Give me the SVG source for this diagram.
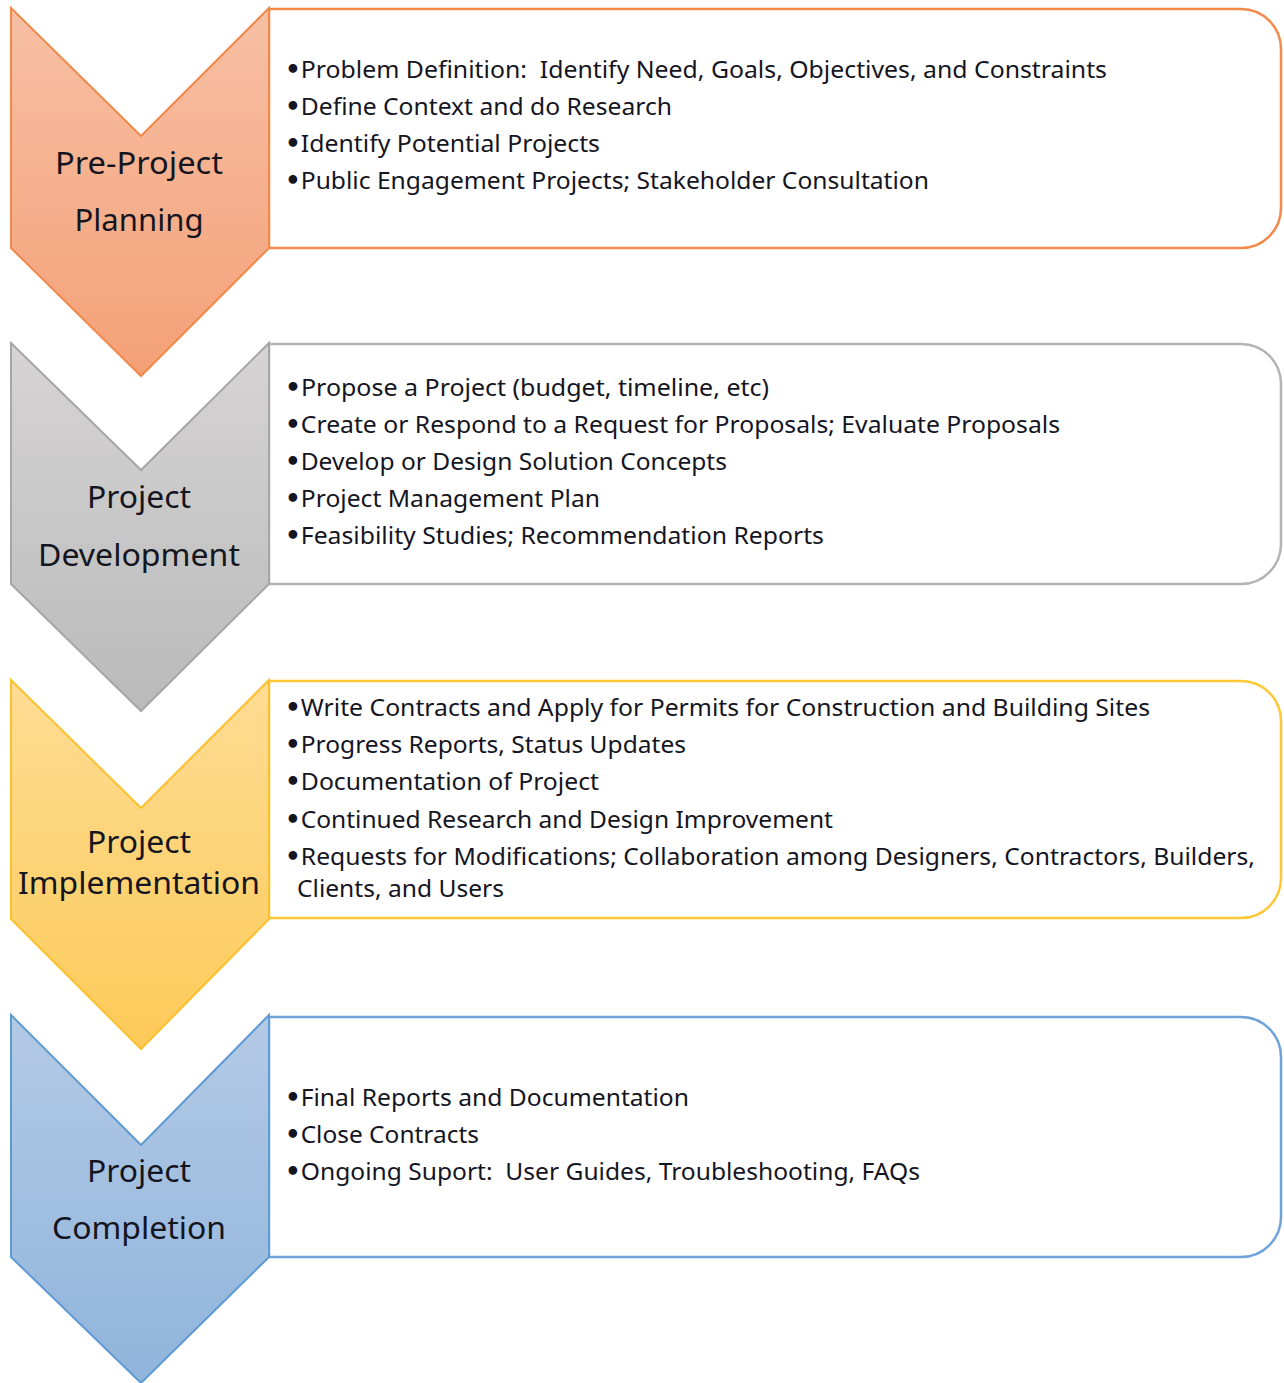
<svg xmlns="http://www.w3.org/2000/svg" width="1284" height="1383" viewBox="0 0 1284 1383">
<style>
.t{font-family:"Noto Sans","Open Sans","Liberation Sans",sans-serif;font-size:24px;fill:#15151f;white-space:pre;}
.b{font-weight:bold;font-family:"DejaVu Sans",sans-serif;}
.h{font-family:"Noto Sans","Open Sans","Liberation Sans",sans-serif;font-size:31px;fill:#15151f;text-anchor:middle;}
.box{fill:#fff;stroke-width:2.5;}
.chev{stroke-width:2;}
</style>
<defs>
<linearGradient id="gO" x1="0" y1="0" x2="0" y2="1"><stop offset="0" stop-color="#f7c0a4"/><stop offset="1" stop-color="#f4a077"/></linearGradient>
<linearGradient id="gG" x1="0" y1="0" x2="0" y2="1"><stop offset="0" stop-color="#d6d4d4"/><stop offset="1" stop-color="#bababa"/></linearGradient>
<linearGradient id="gY" x1="0" y1="0" x2="0" y2="1"><stop offset="0" stop-color="#fedc94"/><stop offset="1" stop-color="#fcca58"/></linearGradient>
<linearGradient id="gB" x1="0" y1="0" x2="0" y2="1"><stop offset="0" stop-color="#b3cae5"/><stop offset="1" stop-color="#90b4dc"/></linearGradient>
</defs>
<g id="connectors"></g>

<g id="stage1">
<path class="box" stroke="#f4894a" d="M269,9 H1241 A40,40 0 0 1 1281,49 V208 A40,40 0 0 1 1241,248 H269 Z"/>
<path class="chev" fill="url(#gO)" stroke="#f08a4b" d="M11,8 L141,136 L269,8 L269,248 L141,376 L11,248 Z"/>
<text class="h" x="139" y="174" textLength="168" lengthAdjust="spacingAndGlyphs">Pre-Project</text>
<text class="h" x="139" y="231" textLength="129" lengthAdjust="spacingAndGlyphs">Planning</text>
<text class="t" x="285" y="78" textLength="822" lengthAdjust="spacingAndGlyphs"><tspan class="b">•</tspan>Problem Definition:  Identify Need, Goals, Objectives, and Constraints</text>
<text class="t" x="285" y="115" textLength="387" lengthAdjust="spacingAndGlyphs"><tspan class="b">•</tspan>Define Context and do Research</text>
<text class="t" x="285" y="152" textLength="315" lengthAdjust="spacingAndGlyphs"><tspan class="b">•</tspan>Identify Potential Projects</text>
<text class="t" x="285" y="189" textLength="644" lengthAdjust="spacingAndGlyphs"><tspan class="b">•</tspan>Public Engagement Projects; Stakeholder Consultation</text>
</g>

<g id="stage2">
<path class="box" stroke="#b4b4b4" d="M269,344 H1241 A40,40 0 0 1 1281,384 V544 A40,40 0 0 1 1241,584 H269 Z"/>
<path class="chev" fill="url(#gG)" stroke="#a6a6a6" d="M11,343 L141,470 L269,343 L269,584 L141,711 L11,584 Z"/>
<text class="h" x="139" y="508" textLength="104" lengthAdjust="spacingAndGlyphs">Project</text>
<text class="h" x="139" y="566" textLength="202" lengthAdjust="spacingAndGlyphs">Development</text>
<text class="t" x="285" y="396" textLength="484" lengthAdjust="spacingAndGlyphs"><tspan class="b">•</tspan>Propose a Project (budget, timeline, etc)</text>
<text class="t" x="285" y="433" textLength="775" lengthAdjust="spacingAndGlyphs"><tspan class="b">•</tspan>Create or Respond to a Request for Proposals; Evaluate Proposals</text>
<text class="t" x="285" y="470" textLength="442" lengthAdjust="spacingAndGlyphs"><tspan class="b">•</tspan>Develop or Design Solution Concepts</text>
<text class="t" x="285" y="507" textLength="315" lengthAdjust="spacingAndGlyphs"><tspan class="b">•</tspan>Project Management Plan</text>
<text class="t" x="285" y="544" textLength="539" lengthAdjust="spacingAndGlyphs"><tspan class="b">•</tspan>Feasibility Studies; Recommendation Reports</text>
</g>

<g id="stage3">
<path class="box" stroke="#fcc834" d="M269,681 H1241 A40,40 0 0 1 1281,721 V878 A40,40 0 0 1 1241,918 H269 Z"/>
<path class="chev" fill="url(#gY)" stroke="#fbc02d" d="M11,680 L141,808 L269,680 L269,919 L141,1049 L11,919 Z"/>
<text class="h" x="139" y="853" textLength="104" lengthAdjust="spacingAndGlyphs">Project</text>
<text class="h" x="139" y="894" textLength="242" lengthAdjust="spacingAndGlyphs">Implementation</text>
<text class="t" x="285" y="716" textLength="865" lengthAdjust="spacingAndGlyphs"><tspan class="b">•</tspan>Write Contracts and Apply for Permits for Construction and Building Sites</text>
<text class="t" x="285" y="753" textLength="401" lengthAdjust="spacingAndGlyphs"><tspan class="b">•</tspan>Progress Reports, Status Updates</text>
<text class="t" x="285" y="790" textLength="314" lengthAdjust="spacingAndGlyphs"><tspan class="b">•</tspan>Documentation of Project</text>
<text class="t" x="285" y="828" textLength="548" lengthAdjust="spacingAndGlyphs"><tspan class="b">•</tspan>Continued Research and Design Improvement</text>
<text class="t" x="285" y="865" textLength="970" lengthAdjust="spacingAndGlyphs"><tspan class="b">•</tspan>Requests for Modifications; Collaboration among Designers, Contractors, Builders,</text>
<text class="t" x="297" y="897" textLength="207" lengthAdjust="spacingAndGlyphs">Clients, and Users</text>
</g>

<g id="stage4">
<path class="box" stroke="#6fa3d8" d="M269,1017 H1241 A40,40 0 0 1 1281,1057 V1217 A40,40 0 0 1 1241,1257 H269 Z"/>
<path class="chev" fill="url(#gB)" stroke="#5f9ad3" d="M11,1015 L141,1145 L269,1015 L269,1257 L141,1383 L11,1257 Z"/>
<text class="h" x="139" y="1182" textLength="104" lengthAdjust="spacingAndGlyphs">Project</text>
<text class="h" x="139" y="1239" textLength="174" lengthAdjust="spacingAndGlyphs">Completion</text>
<text class="t" x="285" y="1106" textLength="404" lengthAdjust="spacingAndGlyphs"><tspan class="b">•</tspan>Final Reports and Documentation</text>
<text class="t" x="285" y="1143" textLength="194" lengthAdjust="spacingAndGlyphs"><tspan class="b">•</tspan>Close Contracts</text>
<text class="t" x="285" y="1180" textLength="635" lengthAdjust="spacingAndGlyphs"><tspan class="b">•</tspan>Ongoing Suport:  User Guides, Troubleshooting, FAQs</text>
</g>
</svg>
